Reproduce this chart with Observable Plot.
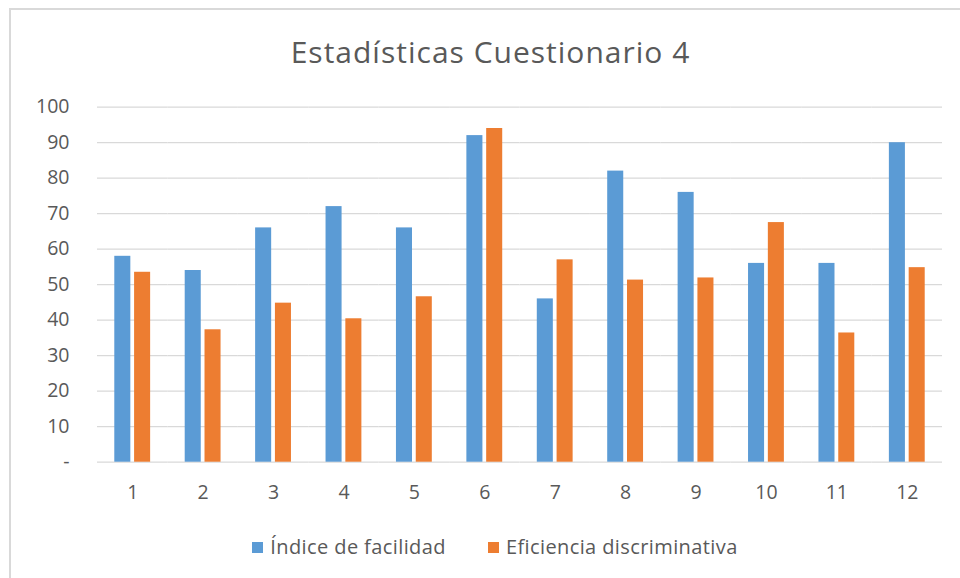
<!DOCTYPE html>
<html>
<head>
<meta charset="utf-8">
<script src="https://cdn.jsdelivr.net/npm/d3@7"></script>
<script src="https://cdn.jsdelivr.net/npm/@observablehq/plot@0.6"></script>
<style>
  html, body { margin: 0; padding: 0; background: #fff; }
  #wrap { position: relative; width: 960px; height: 578px; overflow: hidden; font-family: "Open Sans", Lato, sans-serif; color: #595959; }
  #frame { position: absolute; left: 9px; top: 8px; width: 1000px; height: 600px; border-left: 2px solid #d9d9d9; border-top: 2px solid #d9d9d9; }
  #title { position: absolute; left: 0; top: 37px; width: 981px; text-align: center; font-size: 30px; line-height: 30px; letter-spacing: 1px; color: #595959; }
  #plot { position: absolute; left: 0; top: 90px; }
  #legend { position: absolute; left: 0; top: 535px; width: 990px; display: flex; justify-content: center; gap: 42px; font-size: 20px; line-height: 24px; letter-spacing: 0.4px; color: #595959; }
  .item { display: flex; align-items: center; gap: 7px; }
  .sw { width: 11px; height: 11px; display: inline-block; }
</style>
</head>
<body>
<div id="wrap">
  <div id="frame"></div>
  <div id="title">Estadísticas Cuestionario 4</div>
  <div id="plot"></div>
  <div id="legend"></div>
</div>
<script>
const categories = ["1","2","3","4","5","6","7","8","9","10","11","12"];
const series = ["Índice de facilidad", "Eficiencia discriminativa"];
const indiceFacilidad = [58, 54, 66, 72, 66, 92, 46, 82, 76, 56, 56, 90];
const eficienciaDiscriminativa = [53.5, 37.3, 44.8, 40.4, 46.6, 94, 57, 51.3, 51.9, 67.5, 36.4, 54.8];
const yTicks = [0, 10, 20, 30, 40, 50, 60, 70, 80, 90, 100];
const colors = ["#5b9bd5", "#ed7d31"];

const data = categories.flatMap((c, i) => [
  {cat: c, series: series[0], value: indiceFacilidad[i]},
  {cat: c, series: series[1], value: eficienciaDiscriminativa[i]}
]);

const chart = Plot.plot({
  width: 960,
  height: 420,
  marginLeft: 97,
  marginRight: 18,
  marginTop: 16.7,
  marginBottom: 48.3,
  style: {fontFamily: "'Open Sans', Lato, sans-serif", fontSize: "19.5px", color: "#595959", background: "transparent", overflow: "visible"},
  fx: {domain: categories, padding: 0, round: false, label: null, tickSize: 0, tickPadding: 23, axis: "bottom"},
  x: {domain: series, paddingInner: 0.19, paddingOuter: 0.873, round: false, axis: null},
  y: {domain: [0, 100], ticks: yTicks, tickFormat: d => d === 0 ? "-" : String(d), tickSize: 0, tickPadding: 28, label: null},
  color: {domain: series, range: colors},
  marks: [
    Plot.ruleY(yTicks, {stroke: "#d9d9d9", strokeWidth: 1.3}),
    Plot.barY(data, {fx: "cat", x: "series", y: "value", fill: "series"})
  ]
});
document.getElementById("plot").appendChild(chart);

const legend = document.getElementById("legend");
series.forEach((s, i) => {
  const item = document.createElement("div");
  item.className = "item";
  const sw = document.createElement("span");
  sw.className = "sw";
  sw.style.background = colors[i];
  const t = document.createElement("span");
  t.textContent = s;
  item.appendChild(sw);
  item.appendChild(t);
  legend.appendChild(item);
});
</script>
</body>
</html>
